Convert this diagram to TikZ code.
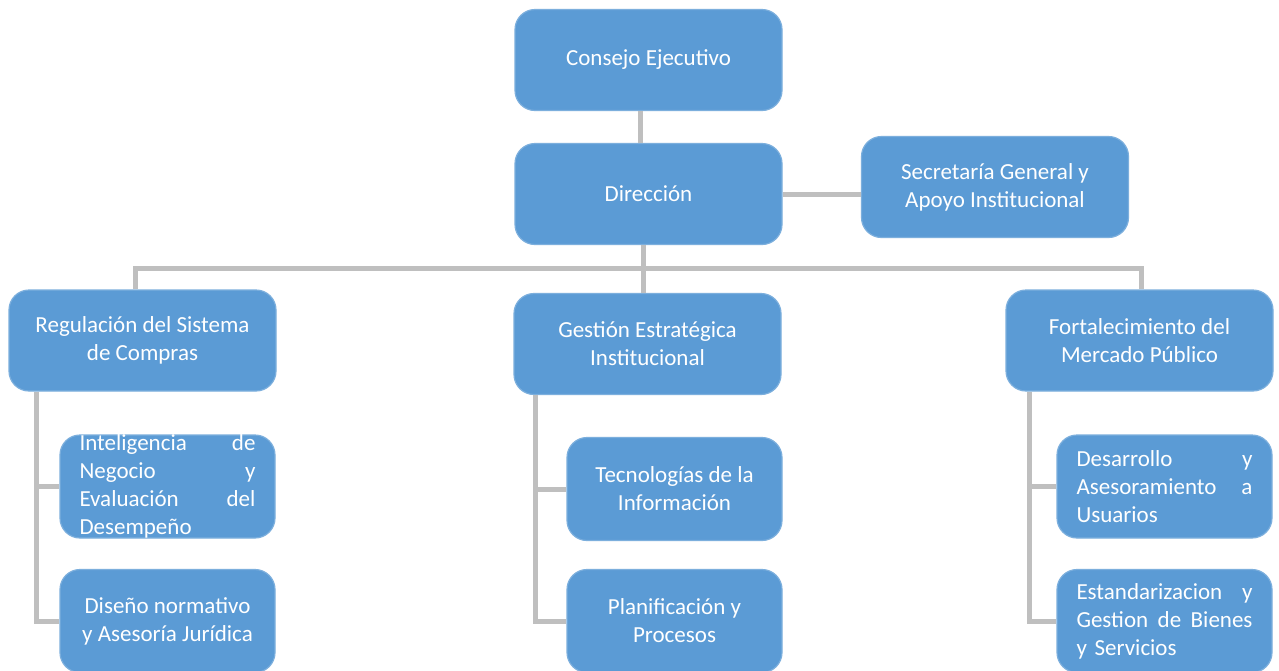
\documentclass[tikz,border=0pt]{standalone}
\usepackage{fontspec}
\setmainfont{Carlito}
\definecolor{boxblue}{HTML}{5B9BD5}
\definecolor{linegray}{HTML}{BFBFBF}
\tikzset{
  unit/.style={rounded corners=10pt,fill=boxblue,draw=boxblue!80!white,line width=0.6pt,
    text=white,align=center,inner sep=2pt},
  bigunit/.style={unit,minimum width=133.5pt,minimum height=50.5pt},
  subunit/.style={unit,minimum width=107.5pt,minimum height=51.5pt},
  jtext/.style={text=white,text width=88pt,align=left,inner sep=0pt},
  conn/.style={draw=linegray,line width=2.5pt}
}
\begin{document}
\begin{tikzpicture}[x=0.5pt,y=-0.5pt,font=\fontsize{11.5}{14}\selectfont]
\clip (0,0) rectangle (1279,670);
\fill[white] (0,0) rectangle (1279,670);
% upper levels
\node[bigunit] (consejo) at (648.5,60) {Consejo Ejecutivo};
\node[bigunit] (dir) at (648.5,194) {Direcci\'on};
\node[bigunit] (sec) at (995,187) {Secretar\'ia General y\\Apoyo Institucional};
% areas
\node[bigunit] (reg) at (142.5,340.5) {Regulaci\'on del Sistema\\de Compras};
\node[bigunit] (gest) at (647.5,344) {Gesti\'on Estrat\'egica\\Institucional};
\node[bigunit] (fort) at (1139.5,340.5) {Fortalecimiento del\\Mercado P\'ublico};
% sub units
\node[subunit,label={[jtext]center:{Inteligencia\hfill de\\Negocio\hfill y\\Evaluaci\'on\hfill del\\Desempe\~no}}] (intel) at (167.5,486.5) {};
\node[subunit] (dis) at (167.5,621) {Dise\~no normativo\\y Asesor\'ia Jur\'idica};
\node[subunit] (tec) at (674.5,489) {Tecnolog\'ias de la\\Informaci\'on};
\node[subunit] (plan) at (674.5,621) {Planificaci\'on y\\Procesos};
\node[subunit,label={[jtext]center:{Desarrollo\hfill y\\Asesoramiento\hfill a\\Usuarios}}] (des) at (1164.5,486.5) {};
\node[subunit,label={[jtext]center:{Estandarizacion\hfill y\\Gestion\hfill de\hfill Bienes\\y Servicios}}] (est) at (1164.5,621) {};
% connectors
\coordinate (busL) at (135,268);
\coordinate (busM) at (643,268);
\coordinate (busR) at (1141,268);
\coordinate (vL) at ([xshift=14pt]reg.south west);
\coordinate (vM) at ([xshift=11pt]gest.south west);
\coordinate (vR) at ([xshift=12pt]fort.south west);
\draw[conn] ([xshift=-4pt]consejo.south) -- ([xshift=-4pt]dir.north);
\draw[conn] (dir.east) -- (dir.east -| sec.west);
\draw[conn] (dir.south -| busM) -- (gest.north -| busM);
\draw[conn] (busL |- reg.north) -- (busL) -- (busR) -- (busR |- fort.north);
\draw[conn] (vL) |- (dis.west) (intel.west) -- (intel.west -| vL);
\draw[conn] (vM) |- (plan.west) (tec.west) -- (tec.west -| vM);
\draw[conn] (vR) |- (est.west) (des.west) -- (des.west -| vR);
\end{tikzpicture}
\end{document}
